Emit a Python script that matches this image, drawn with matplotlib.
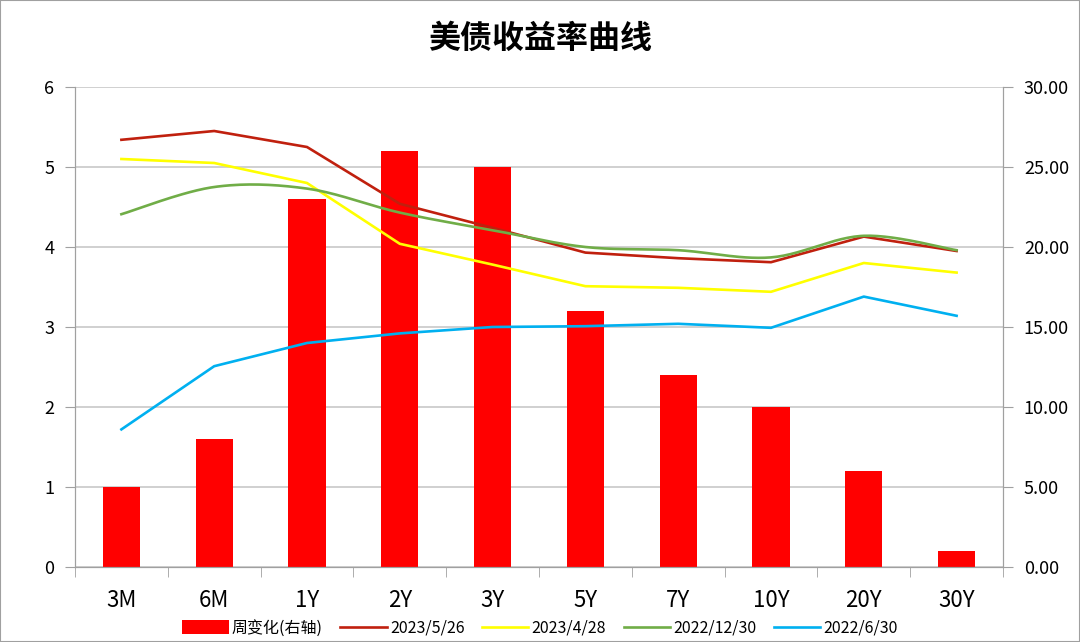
import numpy as np
import matplotlib.pyplot as plt
from matplotlib.patches import Rectangle

plt.rcParams['font.family'] = ['Noto Sans CJK SC', 'DejaVu Sans']

tenors = ['3M', '6M', '1Y', '2Y', '3Y', '5Y', '7Y', '10Y', '20Y', '30Y']
weekly_change = [5.0, 8.0, 23.0, 26.0, 25.0, 16.0, 12.0, 10.0, 6.0, 1.0]
y_20230526 = [5.34, 5.45, 5.25, 4.54, 4.24, 3.93, 3.86, 3.81, 4.13, 3.95]
y_20230428 = [5.10, 5.05, 4.80, 4.04, 3.78, 3.51, 3.49, 3.44, 3.80, 3.68]
y_20221230 = [4.41, 4.75, 4.73, 4.43, 4.21, 4.00, 3.96, 3.87, 4.14, 3.96]
y_20220630 = [1.72, 2.51, 2.80, 2.92, 3.00, 3.01, 3.04, 2.99, 3.38, 3.14]


def smooth(xs, ys, n=30):
    # excel-style smoothed line (catmull-rom bezier)
    xs = np.asarray(xs, float)
    ys = np.asarray(ys, float)
    px, py = [], []
    for i in range(len(xs) - 1):
        x0, y0 = (xs[i - 1], ys[i - 1]) if i > 0 else (xs[i], ys[i])
        x3, y3 = (xs[i + 2], ys[i + 2]) if i + 2 < len(xs) else (xs[i + 1], ys[i + 1])
        x1, y1, x2, y2 = xs[i], ys[i], xs[i + 1], ys[i + 1]
        c1x, c1y = x1 + (x2 - x0) / 6, y1 + (y2 - y0) / 6
        c2x, c2y = x2 - (x3 - x1) / 6, y2 - (y3 - y1) / 6
        t = np.linspace(0, 1, n)
        bx = (1-t)**3*x1 + 3*(1-t)**2*t*c1x + 3*(1-t)*t**2*c2x + t**3*x2
        by = (1-t)**3*y1 + 3*(1-t)**2*t*c1y + 3*(1-t)*t**2*c2y + t**3*y2
        px.extend(bx)
        py.extend(by)
    return px, py


fig = plt.figure(figsize=(10.8, 6.42), dpi=100)
fig.patches.append(Rectangle((0, 0), 1, 1, transform=fig.transFigure,
                             fill=False, edgecolor='#a0a0a0', linewidth=1.5))
ax = fig.add_axes([75/1080, 75/642, 928/1080, 480/642])
ax2 = ax.twinx()

x = np.arange(len(tenors))

# bars on the right axis, behind the lines
ax2.bar(x, weekly_change, width=0.4, color='#ff0000', label='周变化(右轴)', zorder=2)
ax2.set_ylim(0, 30)
ax2.set_yticks(np.arange(0, 31, 5))
ax2.set_yticklabels(['%.2f' % v for v in np.arange(0, 31, 5)])
ax2.yaxis.grid(True, color='#c8c8c8', linewidth=1.2, zorder=0)
ax2.set_axisbelow(True)

ax.set_zorder(ax2.get_zorder() + 1)
ax.patch.set_visible(False)
l1, = ax.plot(x, y_20230526, color='#c0200e', lw=1.9, label='2023/5/26')
l2, = ax.plot(x, y_20230428, color='#ffff00', lw=1.9, label='2023/4/28')
gx, gy = smooth(x, y_20221230)
l3, = ax.plot(gx, gy, color='#70ad47', lw=1.9, label='2022/12/30')
l4, = ax.plot(x, y_20220630, color='#00b0f0', lw=1.9, label='2022/6/30')

ax.set_ylim(0, 6)
ax.set_xlim(-0.5, len(tenors) - 0.5)
ax.set_yticks(range(7))
ax.set_xticks(x)
ax.set_xticklabels(tenors)
ax.set_xticks(np.arange(-0.5, len(tenors)), minor=True)
ax.tick_params(axis='x', which='major', length=0, pad=16, labelsize=16)
ax.tick_params(axis='x', which='minor', length=7, color='#a0a0a0', direction='out')
ax.tick_params(axis='y', length=7, color='#a0a0a0', labelsize=13, pad=8)
ax2.tick_params(axis='y', length=7, color='#a0a0a0', labelsize=13, pad=8)

for a in (ax, ax2):
    a.spines['top'].set_visible(False)
    for s in ('left', 'right', 'bottom'):
        a.spines[s].set_color('#a0a0a0')

bars_h, bars_l = ax2.get_legend_handles_labels()
fig.legend(bars_h + [l1, l2, l3, l4], bars_l + [l.get_label() for l in (l1, l2, l3, l4)],
           loc='lower center', bbox_to_anchor=(0.5, -0.014), ncol=5, frameon=False,
           fontsize=11.5, handlelength=2.9, handleheight=0.9, columnspacing=1.1,
           handletextpad=0.2)

fig.text(0.5, 0.94, '美债收益率曲线', ha='center', va='center', fontsize=23, fontweight='bold')

fig.savefig('out.png', dpi=100)
